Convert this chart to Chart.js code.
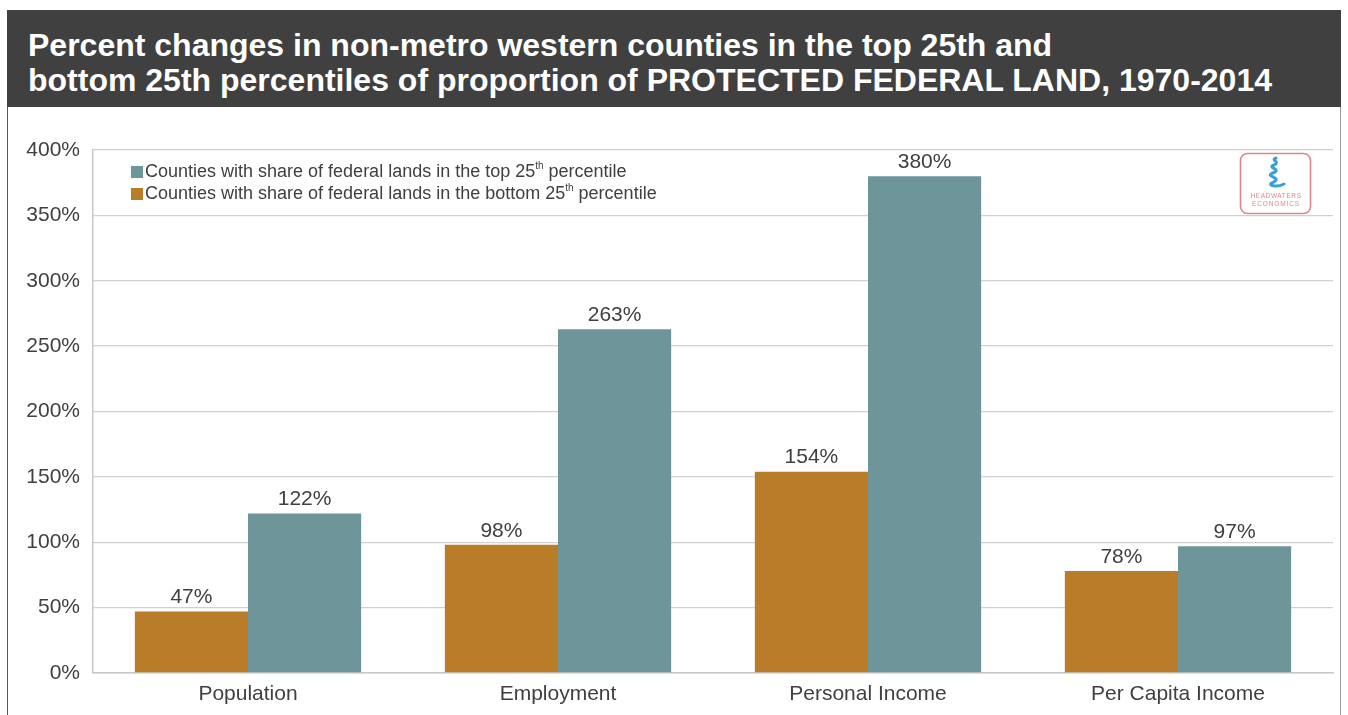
<!DOCTYPE html>
<html>
<head>
<meta charset="utf-8">
<script src="https://cdn.jsdelivr.net/npm/chart.js@4"></script>
<style>
  body { margin: 0; background: #fff; font-family: "Liberation Sans", Arial, sans-serif; }
  #header {
    position: absolute; left: 7px; top: 10px; width: 1334px; height: 97px;
    background: #404041; color: #fff; box-sizing: border-box;
    padding: 18px 0 0 21px; font-weight: bold; font-size: 32px; line-height: 35px;
  }
  #frame {
    position: absolute; left: 7px; top: 107px; width: 1334px; height: 608px;
    border-left: 1px solid #555; border-right: 1px solid #999; box-sizing: border-box;
  }
  #wrap { position: absolute; left: 8px; top: 107px; width: 1333px; height: 608px; }
  #logo { position: absolute; left: 1239px; top: 152px; }
</style>
</head>
<body>
<div id="header">Percent changes in non-metro western counties in the top 25th and<br>bottom 25th percentiles of proportion of PROTECTED FEDERAL LAND, 1970-2014</div>
<div id="frame"></div>
<div id="wrap"><canvas id="chart"></canvas></div>
<svg id="logo" width="74" height="64" viewBox="0 0 74 64">
  <rect x="1.5" y="1.5" width="70" height="60" rx="7" fill="#fff" stroke="#d9888e" stroke-width="1.6"/>
  <path d="M37 6 C31 8 42 10 35 13 C27 16 44 17 34 21 C24 25 46 25 33 31 C28 33 37 36 45 32" fill="none" stroke="#3a9fd6" stroke-width="3" stroke-linecap="round"/>
  <text x="37" y="46" text-anchor="middle" font-size="6.5" fill="#d9888e" font-family="Liberation Sans" letter-spacing="0.6">HEADWATERS</text>
  <text x="37" y="54" text-anchor="middle" font-size="6.5" fill="#d9888e" font-family="Liberation Sans" letter-spacing="0.9">ECONOMICS</text>
</svg>
<script>
const categories = ["Population", "Employment", "Personal Income", "Per Capita Income"];
const bottomValues = [47, 98, 154, 78];
const topValues = [122, 263, 380, 97];
const yTicks = [0, 50, 100, 150, 200, 250, 300, 350, 400];

const seriesNames = [
  ["Counties with share of federal lands in the bottom 25", "th", " percentile"],
  ["Counties with share of federal lands in the top 25", "th", " percentile"]
];

const textColor = "#404040";
const fontFamily = "'Liberation Sans', Arial, sans-serif";

// value labels above each bar
const barLabels = {
  id: "barLabels",
  afterDatasetsDraw(chart) {
    const ctx = chart.ctx;
    ctx.save();
    ctx.font = "21px " + fontFamily;
    ctx.fillStyle = textColor;
    ctx.textAlign = "center";
    ctx.textBaseline = "middle";
    chart.data.datasets.forEach((ds, i) => {
      chart.getDatasetMeta(i).data.forEach((bar, j) => {
        ctx.fillText(ds.data[j] + "%", bar.x, bar.y - 14);
      });
    });
    ctx.restore();
  }
};

// legend drawn inside the plot area, top series first
const insideLegend = {
  id: "insideLegend",
  afterDraw(chart) {
    const ctx = chart.ctx;
    const area = chart.chartArea;
    ctx.save();
    const order = [1, 0];
    order.forEach((dsIndex, row) => {
      const y = area.top + 22 + row * 22;
      const x = area.left + 38;
      ctx.fillStyle = chart.data.datasets[dsIndex].backgroundColor;
      ctx.fillRect(x, y - 6, 12, 12);
      const parts = seriesNames[dsIndex];
      ctx.fillStyle = textColor;
      ctx.textBaseline = "middle";
      ctx.textAlign = "left";
      ctx.font = "18px " + fontFamily;
      let tx = x + 14;
      ctx.fillText(parts[0], tx, y);
      tx += ctx.measureText(parts[0]).width;
      ctx.font = "10px " + fontFamily;
      ctx.fillText(parts[1], tx, y - 6);
      tx += ctx.measureText(parts[1]).width;
      ctx.font = "18px " + fontFamily;
      ctx.fillText(parts[2], tx, y);
    });
    ctx.restore();
  }
};

new Chart(document.getElementById("chart"), {
  type: "bar",
  data: {
    labels: categories,
    datasets: [
      { label: seriesNames[0].join(""), data: bottomValues, backgroundColor: "#b97d29" },
      { label: seriesNames[1].join(""), data: topValues, backgroundColor: "#6e9599" }
    ]
  },
  options: {
    responsive: true,
    maintainAspectRatio: false,
    animation: false,
    layout: { padding: { left: 0, right: 8, top: 43, bottom: 0 } },
    datasets: { bar: { categoryPercentage: 0.73, barPercentage: 1.0 } },
    plugins: {
      legend: { display: false },
      tooltip: { enabled: false }
    },
    scales: {
      x: {
        grid: { display: false, drawTicks: false },
        border: { color: "#c8c8c8", width: 1.5 },
        ticks: { color: textColor, font: { family: fontFamily, size: 21 }, padding: 9 },
        afterFit(scale) { scale.height = 42; }
      },
      y: {
        min: 0,
        max: 400,
        afterBuildTicks(scale) { scale.ticks = yTicks.map(v => ({ value: v })); },
        grid: { color: "#d0d0d0", lineWidth: 1.3, drawTicks: false },
        border: { color: "#c8c8c8", width: 1.5 },
        ticks: {
          color: textColor,
          font: { family: fontFamily, size: 21 },
          padding: 13,
          callback: v => v + "%"
        },
        afterFit(scale) { scale.width = 85; }
      }
    }
  },
  plugins: [barLabels, insideLegend]
});
</script>
</body>
</html>
